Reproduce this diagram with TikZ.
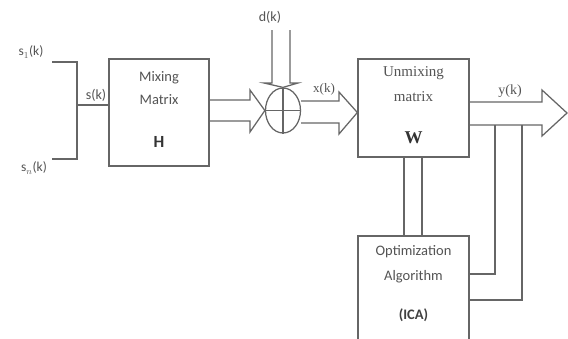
\documentclass[tikz,border=0pt]{standalone}
\usepackage{fontspec}
\setmainfont{Liberation Serif}
\newfontfamily\calfont{Carlito}
\usetikzlibrary{shapes.geometric,calc}
\definecolor{ln}{gray}{0.40}
\definecolor{tx}{gray}{0.33}
\tikzset{
  wire/.style={draw=ln, line width=1.25pt, line join=miter},
  blk/.style={draw=ln, line width=1.25pt, rectangle, inner sep=0pt},
  sans/.style={font=\calfont\fontsize{14.5}{16}\selectfont, text=tx, inner sep=0pt},
  serif/.style={font=\fontsize{15}{16}\selectfont, text=tx, inner sep=0pt},
}
\begin{document}
\begin{tikzpicture}[x=1pt,y=-1pt]
\clip (0,0) rectangle (568,338);
\fill[white] (0,0) rectangle (568,338);
% blocks
\node[blk, minimum width=100pt, minimum height=107pt] (H) at (159,112.5) {};
\node[blk, minimum width=111pt, minimum height=98pt] (W) at (413.5,108) {};
\node[blk, minimum width=111pt, minimum height=114pt] (O) at (413.5,293) {};
\node[draw=ln, line width=1.25pt, ellipse, minimum width=35pt, minimum height=45pt, inner sep=0pt] (S) at (283,110.5) {};
\draw[wire] (S.west) -- (S.east) (S.north) -- (S.south);
% texts
\node[sans] (h1) at (159,78) {Mixing};
\node[sans] (h2) at (159,100) {Matrix};
\node[sans, font=\calfont\bfseries\fontsize{17}{18}\selectfont, text=black!80] (h3) at (159,142) {H};
\node[serif] (w1) at (413.5,73) {Unmixing};
\node[serif] (w2) at (413.5,97) {matrix};
\node[serif, font=\bfseries\fontsize{18}{18}\selectfont, text=black!80] (w3) at (413.5,138) {W};
\node[sans] (o1) at (413.5,252) {Optimization};
\node[sans] (o2) at (413.5,277) {Algorithm};
\node[sans, font=\calfont\bfseries\fontsize{14.5}{16}\selectfont, text=black!75] (o3) at (413.5,315) {(ICA)};
% input lines
\coordinate (s1) at (52,62);
\coordinate (sn) at (52,159);
\coordinate (j1) at (77,62);
\coordinate (j2) at (77,159);
\coordinate (jm) at (77,105);
\draw[wire] (s1) -- (j1) -- (j2) -- (sn);
\draw[wire] (jm) -- (jm -| H.west);
\node[sans, font=\calfont\fontsize{13.5}{14}\selectfont] (ls1) at (31,52) {s$_1$(k)};
\node[sans, font=\calfont\fontsize{13.5}{14}\selectfont] (lsn) at (34,168) {s$_n$(k)};
\node[sans, font=\calfont\fontsize{14}{14}\selectfont] (ls) at (96,95) {s(k)};
% arrow H -> sum
\draw[wire] (H.east |- 0,100) -- (250,100) -- (250,90) -- (S.west) -- (250,132) -- (250,121) -- (H.east |- 0,121);
% arrow sum -> W
\draw[wire] (S.east |- 0,101) -- (339,101) -- (339,92) -- (W.west |- 0,112.5) -- (339,134) -- (339,123) -- (S.east |- 0,123);
% d arrow
\draw[wire] (272,30) -- (272,83) -- (264,83) -- (S.north) -- (298,83) -- (290,83) -- (290,30);
\node[sans, font=\calfont\fontsize{14}{14}\selectfont] (ld) at (270,17) {d(k)};
\node[serif, font=\fontsize{13}{14}\selectfont] (lx) at (324,89) {x(k)};
% output arrow
\coordinate (tip) at (567,113);
\draw[wire] (W.east |- 0,102) -- (542,102) -- (542,90) -- (tip) -- (542,136) -- (542,125) -- (W.east |- 0,125);
\node[serif, font=\fontsize{14}{14}\selectfont] (ly) at (510,91) {y(k)};
% W <-> O
\draw[wire] (404,0 |- W.south) -- (404,0 |- O.north);
\draw[wire] (422,0 |- W.south) -- (422,0 |- O.north);
% feedback
\draw[wire] (495,125) -- (495,274) -- (O.east |- 0,274);
\draw[wire] (522,125) -- (522,300) -- (O.east |- 0,300);
\end{tikzpicture}
\end{document}
